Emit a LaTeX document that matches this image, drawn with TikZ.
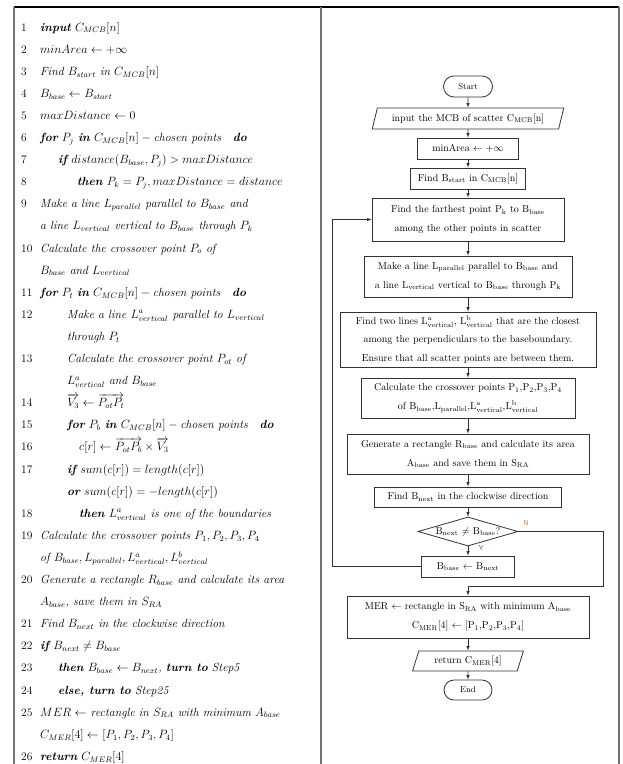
\documentclass[tikz,border=0pt]{standalone}
\usepackage{amsmath,amssymb}
\usetikzlibrary{arrows}
\usetikzlibrary{shapes.geometric, shapes.misc, math}
\definecolor{framegray}{RGB}{115,115,115}
\definecolor{nlabel}{RGB}{205,125,55}
\definecolor{ylabel}{RGB}{60,95,190}
\newcommand{\kw}[1]{\textbf{\textit{#1}}}

\begin{document}
\begin{tikzpicture}[x=1pt, y=-1pt,
  algline/.style={anchor=base west, inner sep=0pt, font=\fontsize{11.8}{13}\selectfont\itshape},
  algnum/.style={anchor=base west, inner sep=0pt, font=\fontsize{11.5}{13}\selectfont},
  proc/.style={draw=black!80, line width=0.8pt, rectangle, align=center, inner sep=1pt, font=\fontsize{10}{19}\selectfont},
  io/.style={proc, trapezium, trapezium left angle=70, trapezium right angle=110, trapezium stretches=true},
  term/.style={proc, rounded rectangle, font=\fontsize{8.5}{9}\selectfont},
  decide/.style={proc, diamond, aspect=3.4, inner sep=0pt},
  flow/.style={-latex, line width=0.6pt, black!80},
  yn/.style={inner sep=0pt, font=\fontsize{7}{8}\selectfont\sffamily},
]
\tikzmath{
\yo=31;
\dy=22.1;
\xa=40;
\xb=58;
\xc=67;
\xd=79;
\xn=21;
\xm=468;
}
\useasboundingbox (0,0) rectangle (622,764);
%frame
\draw[line width=1.3pt] (14,7) -- (619,7);
\draw[framegray, line width=1.3pt] (14,7) -- (14,764);
\draw[framegray, line width=1.3pt] (321,7) -- (321,764);
\draw[framegray, line width=1.3pt] (619,7) -- (619,764);

%algorithm listing
\node[algnum] (n1) at (\xn,\yo) {1};
\node[algline] (l1) at (\xa,\yo) {\kw{input} $C_{MCB}[n]$};
\node[algnum] (n2) at (\xn,\yo+\dy) {2};
\node[algline] (l2) at (\xa,\yo+\dy) {$minArea \leftarrow +\infty$};
\node[algnum] (n3) at (\xn,\yo+2*\dy) {3};
\node[algline] (l3) at (\xa,\yo+2*\dy) {Find $B_{start}$ in $C_{MCB}[n]$};
\node[algnum] (n4) at (\xn,\yo+3*\dy) {4};
\node[algline] (l4) at (\xa,\yo+3*\dy) {$B_{base} \leftarrow B_{start}$};
\node[algnum] (n5) at (\xn,\yo+4*\dy) {5};
\node[algline] (l5) at (\xa,\yo+4*\dy) {$maxDistance \leftarrow 0$};
\node[algnum] (n6) at (\xn,\yo+5*\dy) {6};
\node[algline] (l6) at (\xa,\yo+5*\dy) {\kw{for} $P_j$ \kw{in} $C_{MCB}[n] -{}$chosen points\quad \kw{do}};
\node[algnum] (n7) at (\xn,\yo+6*\dy) {7};
\node[algline] (l7) at (\xb,\yo+6*\dy) {\kw{if} $distance(B_{base},P_j) > maxDistance$};
\node[algnum] (n8) at (\xn,\yo+7*\dy) {8};
\node[algline] (l8) at (77,\yo+7*\dy) {\kw{then} $P_k = P_j, maxDistance = distance$};
\node[algnum] (n9) at (\xn,\yo+8*\dy) {9};
\node[algline] (l9) at (\xa,\yo+8*\dy) {Make a line $L_{parallel}$ parallel to $B_{base}$ and};
\node[algline] (l9b) at (\xa,\yo+9*\dy) {a line $L_{vertical}$ vertical to $B_{base}$ through $P_k$};
\node[algnum] (n10) at (\xn,\yo+10*\dy) {10};
\node[algline] (l10) at (\xa,\yo+10*\dy) {Calculate the crossover point $P_o$ of};
\node[algline] (l10b) at (\xa,\yo+11*\dy) {$B_{base}$ and $L_{vertical}$};
\node[algnum] (n11) at (\xn,\yo+12*\dy) {11};
\node[algline] (l11) at (\xa,\yo+12*\dy) {\kw{for} $P_t$ \kw{in} $C_{MCB}[n] -{}$chosen points\quad \kw{do}};
\node[algnum] (n12) at (\xn,\yo+13*\dy) {12};
\node[algline] (l12) at (\xc,\yo+13*\dy) {Make a line $L^a_{vertical}$ parallel to $L_{vertical}$};
\node[algline] (l12b) at (\xc,\yo+14*\dy) {through $P_t$};
\node[algnum] (n13) at (\xn,\yo+15*\dy) {13};
\node[algline] (l13) at (\xc,\yo+15*\dy) {Calculate the crossover point $P_{ot}$ of};
\node[algline] (l13b) at (\xc,\yo+16*\dy) {$L^a_{vertical}$ and $B_{base}$};
\node[algnum] (n14) at (\xn,\yo+17*\dy) {14};
\node[algline] (l14) at (\xc,\yo+17*\dy) {$\overrightarrow{V_3} \leftarrow \overrightarrow{P_{ot}P_t}$};
\node[algnum] (n15) at (\xn,\yo+18*\dy) {15};
\node[algline] (l15) at (\xc,\yo+18*\dy) {\kw{for} $P_b$ \kw{in} $C_{MCB}[n] -{}$chosen points\quad \kw{do}};
\node[algnum] (n16) at (\xn,\yo+19*\dy) {16};
\node[algline] (l16) at (\xd,\yo+19*\dy) {$c[r] \leftarrow \overrightarrow{P_{ot}P_b} \times \overrightarrow{V_3}$};
\node[algnum] (n17) at (\xn,\yo+20*\dy) {17};
\node[algline] (l17) at (\xc,\yo+20*\dy) {\kw{if} $sum(c[r]) = length(c[r])$};
\node[algline] (l17b) at (\xc,\yo+21*\dy) {\kw{or} $sum(c[r]) = -length(c[r])$};
\node[algnum] (n18) at (\xn,\yo+22*\dy) {18};
\node[algline] (l18) at (\xd,\yo+22*\dy) {\kw{then} $L^a_{vertical}$ is one of the boundaries};
\node[algnum] (n19) at (\xn,\yo+23*\dy) {19};
\node[algline] (l19) at (\xa,\yo+23*\dy) {Calculate the crossover points $P_1,P_2,P_3,P_4$};
\node[algline] (l19b) at (\xa,\yo+24*\dy) {of $B_{base},L_{parallel},L^a_{vertical},L^b_{vertical}$};
\node[algnum] (n20) at (\xn,\yo+25*\dy) {20};
\node[algline] (l20) at (\xa,\yo+25*\dy) {Generate a rectangle $R_{base}$ and calculate its area};
\node[algline] (l20b) at (\xa,\yo+26*\dy) {$A_{base}$, save them in $S_{RA}$};
\node[algnum] (n21) at (\xn,\yo+27*\dy) {21};
\node[algline] (l21) at (\xa,\yo+27*\dy) {Find $B_{next}$ in the clockwise direction};
\node[algnum] (n22) at (\xn,\yo+28*\dy) {22};
\node[algline] (l22) at (\xa,\yo+28*\dy) {\kw{if} $B_{next} \neq B_{base}$};
\node[algnum] (n23) at (\xn,\yo+29*\dy) {23};
\node[algline] (l23) at (\xb,\yo+29*\dy) {\kw{then} $B_{base} \leftarrow B_{next}$, \kw{turn to} Step5};
\node[algnum] (n24) at (\xn,\yo+30*\dy) {24};
\node[algline] (l24) at (\xb,\yo+30*\dy) {\kw{else, turn to} Step25};
\node[algnum] (n25) at (\xn,\yo+31*\dy) {25};
\node[algline] (l25) at (\xa,\yo+31*\dy) {$MER \leftarrow$ rectangle in $S_{RA}$ with minimum $A_{base}$};
\node[algline] (l25b) at (\xa,\yo+32*\dy) {$C_{MER}[4] \leftarrow [P_1,P_2,P_3,P_4]$};
\node[algnum] (n26) at (\xn,\yo+33*\dy) {26};
\node[algline] (l26) at (\xa,\yo+33*\dy) {\kw{return} $C_{MER}[4]$};

%flowchart
\node[term, minimum width=51, minimum height=21] (start) at (\xm,86.5) {Start};
\node[io, minimum width=192, minimum height=21] (input) at (\xm,118.5) {input the MCB of scatter C$_{\mathrm{MCB}}$[n]};
\node[proc, minimum width=101, minimum height=21] (init) at (\xm,148.5) {minArea $\leftarrow +\infty$};
\node[proc, minimum width=115, minimum height=21] (findstart) at (\xm,178.5) {Find B$_{\mathrm{start}}$ in C$_{\mathrm{MCB}}$[n]};
\node[proc, minimum width=192, minimum height=43] (farthest) at (\xm,219.5) {Find the farthest point P$_{\mathrm{k}}$ to B$_{\mathrm{base}}$\\among the other points in scatter};
\node[proc, minimum width=208, minimum height=41] (lines) at (\xm,276.5) {Make a line L$_{\mathrm{parallel}}$ parallel to B$_{\mathrm{base}}$ and\\a line L$_{\mathrm{vertical}}$ vertical to B$_{\mathrm{base}}$ through P$_{\mathrm{k}}$};
\node[proc, minimum width=256, minimum height=55, font=\fontsize{10}{18.3}\selectfont] (closest) at (\xm,339.5) {Find two lines L$^{\mathrm{a}}_{\mathrm{vertical}}$, L$^{\mathrm{b}}_{\mathrm{vertical}}$ that are the closest\\among the perpendiculars to the baseboundary.\\Ensure that all scatter points are between them.};
\node[proc, minimum width=214, minimum height=40] (cross) at (\xm,398) {Calculate the crossover points P$_1$,P$_2$,P$_3$,P$_4$\\of B$_{\mathrm{base}}$,L$_{\mathrm{parallel}}$,L$^{\mathrm{a}}_{\mathrm{vertical}}$,L$^{\mathrm{b}}_{\mathrm{vertical}}$};
\node[proc, minimum width=242, minimum height=40] (rect) at (\xm,454) {Generate a rectangle R$_{\mathrm{base}}$ and calculate its area\\A$_{\mathrm{base}}$ and save them in S$_{\mathrm{RA}}$};
\node[proc, minimum width=187, minimum height=20] (next) at (\xm,497) {Find B$_{\mathrm{next}}$ in the clockwise direction};
\node[decide, minimum width=100, minimum height=29] (check) at (\xm,531.5) {B$_{\mathrm{next}}$ $\neq$ B$_{\mathrm{base}}$?};
\node[proc, minimum width=93, minimum height=21] (assign) at (\xm,566.5) {B$_{\mathrm{base}}$ $\leftarrow$ B$_{\mathrm{next}}$};
\node[proc, minimum width=242, minimum height=42] (mer) at (\xm,617) {MER $\leftarrow$ rectangle in S$_{\mathrm{RA}}$ with minimum A$_{\mathrm{base}}$\\C$_{\mathrm{MER}}$[4] $\leftarrow$ [P$_1$,P$_2$,P$_3$,P$_4$]};
\node[io, minimum width=111, minimum height=20] (output) at (\xm,661) {return C$_{\mathrm{MER}}$[4]};
\node[term, minimum width=50, minimum height=20] (stop) at (\xm,690) {End};

\node[yn, text=nlabel] (nlab) at (526,523) {N};
\node[yn, text=ylabel] (ylab) at (481,548) {Y};

\draw[flow] (start) -- (input);
\draw[flow] (input) -- (init);
\draw[flow] (init) -- (findstart);
\draw[flow] (findstart) -- (farthest);
\draw[flow] (farthest) -- (lines);
\draw[flow] (lines) -- (closest);
\draw[flow] (closest) -- (cross);
\draw[flow] (cross) -- (rect);
\draw[flow] (rect) -- (next);
\draw[flow] (next) -- (check);
\draw[flow] (check) -- (assign);
\draw[flow] (mer) -- (output);
\draw[flow] (output) -- (stop);
%loop back
\draw[flow] (assign.west) -- ++(-89,0) |- (farthest.west);
\coordinate (nturn) at (\xm,586);
\draw[flow] (check.east) -- ++(85,0) |- (nturn) -- (mer.north);
\end{tikzpicture}
\end{document}
